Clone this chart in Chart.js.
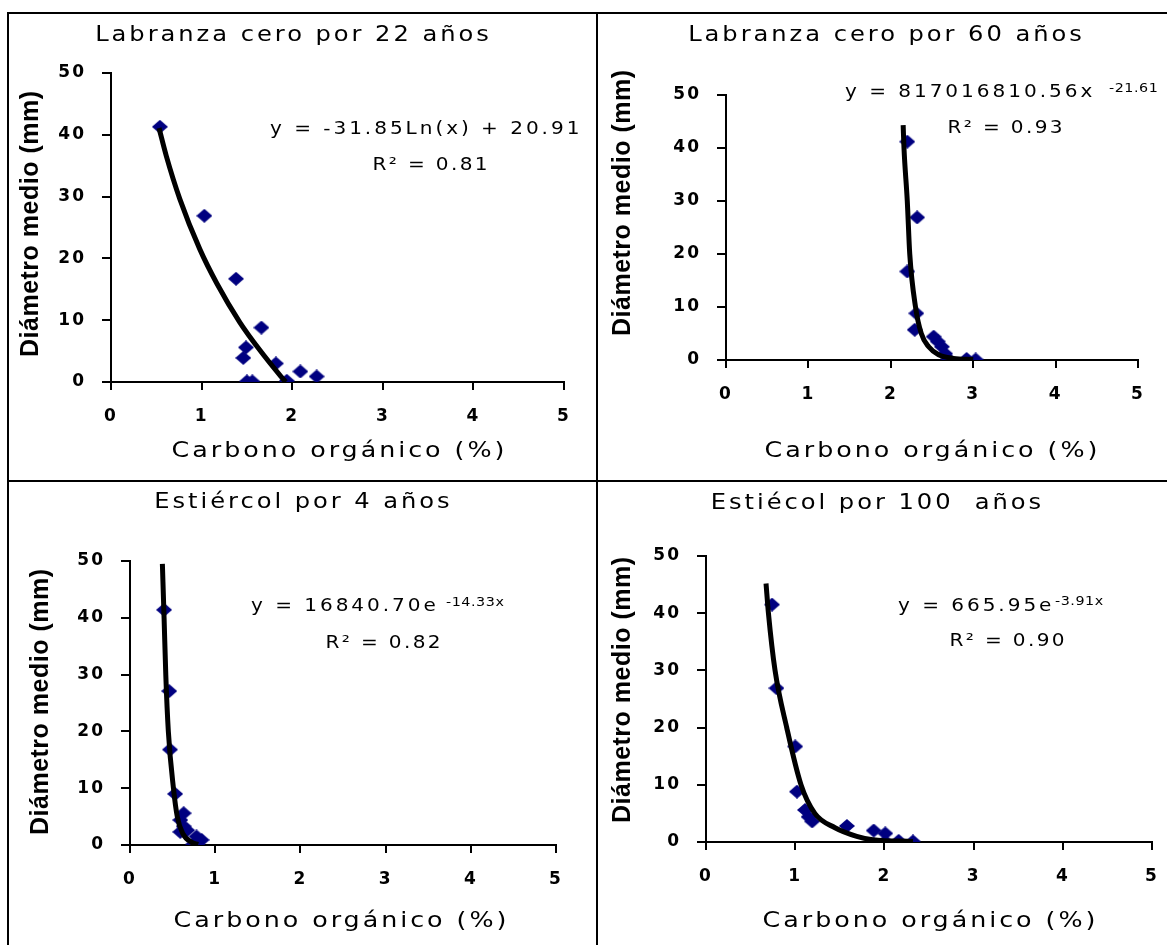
<!DOCTYPE html>
<html><head><meta charset="utf-8">
<script src="https://cdn.jsdelivr.net/npm/chart.js@4.4.1/dist/chart.umd.min.js"></script>
<style>
html,body{margin:0;padding:0;background:#fff;}
#wrap{position:relative;width:1167px;height:945px;overflow:hidden;background:#fff;}
#wrap canvas{position:absolute;}
.ln{position:absolute;background:#000;}
</style></head><body>
<div id="wrap">
<canvas id="c1" width="586" height="465" style="left:9px;top:14px"></canvas>
<canvas id="c2" width="569" height="465" style="left:598px;top:14px"></canvas>
<canvas id="c3" width="586" height="463" style="left:9px;top:482px"></canvas>
<canvas id="c4" width="569" height="463" style="left:598px;top:482px"></canvas>
<div class="ln" style="left:7px;top:12px;width:1160px;height:2px"></div>
<div class="ln" style="left:7px;top:12px;width:2px;height:933px"></div>
<div class="ln" style="left:596px;top:12px;width:2px;height:933px"></div>
<div class="ln" style="left:7px;top:480px;width:1160px;height:2px"></div>
</div>
<script>
// ---------- data ----------
const xTickValues = [0, 1, 2, 3, 4, 5];
const xTickLabels = ['0', '1', '2', '3', '4', '5'];
const yTickValues = [0, 10, 20, 30, 40, 50];
const yTickLabels = ['0', '10', '20', '30', '40', '50'];

const panelTitles = ['Labranza cero por 22 años', 'Labranza cero por 60 años', 'Estiércol por 4 años', 'Estiécol por 100  años'];
const xAxisTitle = 'Carbono orgánico (%)';
const yAxisTitle = 'Diámetro medio (mm)';
const eqMain = ['y = -31.85Ln(x) + 20.91', 'y = 817016810.56x', 'y = 16840.70e', 'y = 665.95e'];
const eqSup = ['', '-21.61', '-14.33x', '-3.91x'];
const r2Text = ['R² = 0.81', 'R² = 0.93', 'R² = 0.82', 'R² = 0.90'];

// Labranza cero 22 años
const lc22Carbon = [0.54, 1.03, 1.38, 1.66, 1.49, 1.46, 1.50, 1.56, 1.82, 1.94, 2.09, 2.27];
const lc22Diam   = [41.3, 26.9, 16.7, 8.8, 5.6, 3.9, 0.1, 0.1, 3.0, 0.2, 1.7, 0.9];
const lc22TrendC = [0.53, 0.61, 0.76, 0.98, 1.17, 1.42, 1.64, 1.87, 1.93];
const lc22TrendD = [41.1, 36.6, 29.6, 21.5, 15.9, 9.7, 5.2, 1.0, 0.0];

// Labranza cero 60 años
const lc60Carbon = [2.20, 2.32, 2.20, 2.31, 2.29, 2.52, 2.57, 2.62, 2.66, 2.70, 2.92, 3.03];
const lc60Diam   = [41.2, 26.9, 16.7, 8.8, 5.7, 4.4, 3.5, 2.5, 1.2, 0.2, 0.2, 0.1];
const lc60TrendC = [2.15, 2.16, 2.20, 2.23, 2.30, 2.37, 2.46, 2.58, 2.76, 3.00];
const lc60TrendD = [44.3, 40.0, 30.0, 20.0, 10.0, 5.0, 2.5, 1.0, 0.3, 0.1];

// Estiércol 4 años
const e4Carbon = [0.40, 0.46, 0.47, 0.53, 0.63, 0.59, 0.63, 0.59, 0.67, 0.78, 0.84, 0.74, 0.79];
const e4Diam   = [41.4, 27.1, 16.8, 9.0, 5.6, 4.4, 3.3, 2.3, 2.6, 1.5, 0.9, 0.1, 0.0];
const e4TrendC = [0.38, 0.40, 0.42, 0.45, 0.51, 0.555, 0.62, 0.72, 0.80];
const e4TrendD = [49.5, 40.0, 30.0, 20.0, 10.0, 5.0, 2.0, 0.5, 0.1];

// Estiércol 100 años
const e100Carbon = [0.74, 0.79, 1.00, 1.02, 1.11, 1.15, 1.19, 1.58, 1.88, 2.01, 2.01, 2.16, 2.32];
const e100Diam   = [41.5, 26.9, 16.7, 8.8, 5.6, 4.4, 3.6, 2.8, 2.0, 1.5, 0.1, 0.2, 0.1];
const e100TrendC = [0.673, 0.70, 0.774, 0.905, 1.065, 1.22, 1.446, 1.69, 1.87, 2.32];
const e100TrendD = [45.2, 40.0, 30.0, 20.0, 10.0, 5.0, 2.5, 1.0, 0.4, 0.1];

const seriesList = [
  {c: lc22Carbon, d: lc22Diam, tc: lc22TrendC, td: lc22TrendD},
  {c: lc60Carbon, d: lc60Diam, tc: lc60TrendC, td: lc60TrendD},
  {c: e4Carbon, d: e4Diam, tc: e4TrendC, td: e4TrendD},
  {c: e100Carbon, d: e100Diam, tc: e100TrendC, td: e100TrendD}
];

// ---------- layout (page coordinates) ----------
const panels = [
  {id:'c1', cx:9, cy:14, cw:586, ch:465, plot:{l:111, r:564, t:73, b:382},
   title:{x:292, y:41}, xt:{x:338, y:457}, yt:{x:38, y:224}, eq:{x:270, y:134}, sup:{x:0, y:0}, r2:{x:430, y:170}},
  {id:'c2', cx:598, cy:14, cw:569, ch:465, plot:{l:726, r:1138, t:95, b:360},
   title:{x:885, y:41}, xt:{x:931, y:457}, yt:{x:630, y:203}, eq:{x:845, y:97}, sup:{x:1109, y:92}, r2:{x:1005, y:133}},
  {id:'c3', cx:9, cy:482, cw:586, ch:463, plot:{l:130, r:556, t:561, b:845},
   title:{x:302, y:508}, xt:{x:340, y:927}, yt:{x:48, y:702}, eq:{x:251, y:611}, sup:{x:446, y:606}, r2:{x:383, y:648}},
  {id:'c4', cx:598, cy:482, cw:569, ch:463, plot:{l:706, r:1152, t:556, b:842},
   title:{x:876, y:509}, xt:{x:929, y:927}, yt:{x:630, y:690}, eq:{x:898, y:611}, sup:{x:1055, y:605}, r2:{x:1007, y:646}}
];

const MARK = '#000080';
const diamond = (() => {
  const c = document.createElement('canvas'); c.width = 16; c.height = 14;
  const g = c.getContext('2d'); g.fillStyle = MARK;
  g.beginPath(); g.moveTo(8, 0); g.lineTo(16, 7); g.lineTo(8, 14); g.lineTo(0, 7); g.closePath(); g.fill();
  return c;
})();

function txt(ctx, s, x, y, font, sp, align, sx) {
  ctx.save();
  ctx.translate(x, y);
  ctx.scale(sx, 1);
  ctx.font = font; ctx.letterSpacing = sp + 'px'; ctx.fillStyle = '#000';
  ctx.textAlign = align; ctx.textBaseline = 'alphabetic';
  ctx.fillText(s, align === 'center' ? sp / 2 : 0, 0);
  ctx.restore();
}

const panelText = {
  id: 'panelText',
  beforeDraw(chart) { chart.ctx.letterSpacing = '2px'; },
  afterDraw(chart, args, opts) {
    const i = opts.index, P = panels[i], ctx = chart.ctx;
    const ox = P.cx, oy = P.cy;
    txt(ctx, panelTitles[i], P.title.x - ox, P.title.y - oy, '20.5px "DejaVu Sans"', 2.5, 'center', 1.18);
    txt(ctx, xAxisTitle, P.xt.x - ox, P.xt.y - oy, '21.5px "DejaVu Sans"', 2.5, 'center', 1.18);
    ctx.save();
    ctx.translate(P.yt.x - ox, P.yt.y - oy);
    ctx.rotate(-Math.PI / 2);
    txt(ctx, yAxisTitle, 0, 0, 'bold 25px "Liberation Sans"', 0.5, 'center', 1);
    ctx.restore();
    txt(ctx, eqMain[i], P.eq.x - ox, P.eq.y - oy, '17px "DejaVu Sans"', 2.5, 'left', 1.18);
    if (eqSup[i]) txt(ctx, eqSup[i], P.sup.x - ox, P.sup.y - oy, '13px "DejaVu Sans"', 0.5, 'left', 1.1);
    txt(ctx, r2Text[i], P.r2.x - ox, P.r2.y - oy, '17px "DejaVu Sans"', 2, 'center', 1.18);
  }
};

function zeroPad(s) { s.paddingLeft = 0; s.paddingRight = 0; s.paddingTop = 0; s.paddingBottom = 0; }

panels.forEach((P, i) => {
  const S = seriesList[i];
  const yW = P.plot.l - P.cx;
  const xH = P.cy + P.ch - P.plot.b;
  const tickFont = {family: 'DejaVu Sans', size: 17, weight: 'bold'};
  new Chart(document.getElementById(P.id), {
    type: 'scatter',
    data: {datasets: [
      {type: 'line', data: S.tc.map((x, k) => ({x: x, y: S.td[k]})), borderColor: '#000', borderWidth: 5,
       pointRadius: 0, fill: false, cubicInterpolationMode: 'monotone', order: 0},
      {type: 'scatter', data: S.c.map((x, k) => ({x: x, y: S.d[k]})), pointStyle: diamond, pointRadius: 8,
       backgroundColor: MARK, borderWidth: 0, order: 1}
    ]},
    options: {
      responsive: false, animation: false, devicePixelRatio: 1,
      layout: {padding: {left: 0, top: P.plot.t - P.cy, right: P.cx + P.cw - P.plot.r, bottom: 0}},
      plugins: {legend: {display: false}, tooltip: {enabled: false}, title: {display: false}, panelText: {index: i}},
      scales: {
        x: {type: 'linear', min: 0, max: 5,
            afterBuildTicks: s => { s.ticks = xTickValues.map(v => ({value: v})); },
            afterFit: s => { s.height = xH; zeroPad(s); },
            ticks: {callback: (v, k) => xTickLabels[k], color: '#000', font: tickFont, padding: 16, maxRotation: 0, autoSkip: false},
            grid: {drawOnChartArea: false, drawTicks: true, tickLength: 8, color: '#000', lineWidth: 2},
            border: {display: true, color: '#000', width: 2}},
        y: {type: 'linear', min: 0, max: 50,
            afterBuildTicks: s => { s.ticks = yTickValues.map(v => ({value: v})); },
            afterFit: s => { s.width = yW; zeroPad(s); },
            ticks: {callback: (v, k) => yTickLabels[k], color: '#000', font: tickFont, padding: 16, autoSkip: false},
            grid: {drawOnChartArea: false, drawTicks: true, tickLength: 9, color: '#000', lineWidth: 2},
            border: {display: true, color: '#000', width: 2}}
      }
    },
    plugins: [panelText]
  });
});
</script>
</body></html>
